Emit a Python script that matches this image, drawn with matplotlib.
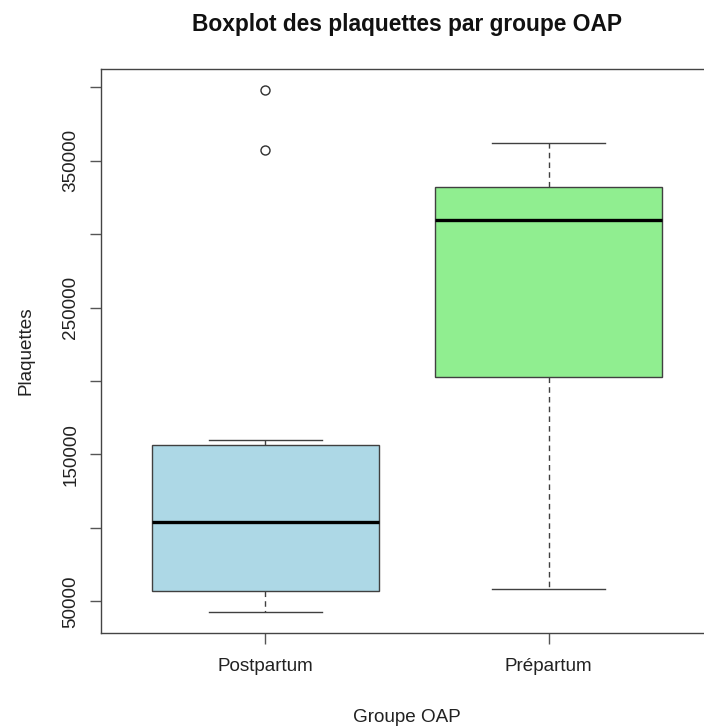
import matplotlib
matplotlib.use("Agg")
import matplotlib.pyplot as plt
import numpy as np

plt.rcParams['font.family'] = ['Liberation Sans', 'DejaVu Sans']

# Summary statistics of platelet counts per OAP group
groups = ["Postpartum", "Prépartum"]
whisker_low = [42500, 58200]
quartile_1 = [57200, 202500]
medians = [104300, 309600]
quartile_3 = [156600, 332400]
whisker_high = [160000, 362400]
outliers = [[398300, 357400], []]

box_colors = ["#ADD8E6", "#90EE90"]
yticks = [50000, 100000, 150000, 200000, 250000, 300000, 350000, 400000]
ytick_labels = ["50000", "", "150000", "", "250000", "", "350000", ""]

W, H = 704, 726
fig = plt.figure(figsize=(W / 100, H / 100), dpi=100)
ax = fig.add_axes([101 / W, (H - 633.2) / H, (713 - 101) / W, (633.2 - 69.1) / H])

stats = []
for i, name in enumerate(groups):
    stats.append(dict(label=name, whislo=whisker_low[i], q1=quartile_1[i],
                      med=medians[i], q3=quartile_3[i], whishi=whisker_high[i],
                      fliers=outliers[i]))

edge = "#404040"
bp = ax.bxp(stats, positions=[1, 2], widths=0.8, patch_artist=True,
            boxprops=dict(edgecolor=edge, linewidth=1.0),
            medianprops=dict(color="black", linewidth=2.4, solid_capstyle="butt"),
            whiskerprops=dict(color=edge, linewidth=1.0, linestyle=(0, (4, 3))),
            capprops=dict(color=edge, linewidth=1.0),
            capwidths=0.4,
            flierprops=dict(marker="o", markerfacecolor="none",
                            markeredgecolor="#303030", markersize=6.5,
                            markeredgewidth=1.0))
for patch, c in zip(bp["boxes"], box_colors):
    patch.set_facecolor(c)

# Axis ranges extended by 4% as in a classic boxplot
all_vals = whisker_low + whisker_high + [v for o in outliers for v in o]
lo, hi = min(all_vals), max(all_vals)
pad = 0.04 * (hi - lo)
ax.set_ylim(lo - pad, hi + pad)
ax.set_xlim(0.5 - 0.08, 2.5 + 0.08)

ax.set_yticks(yticks)
ax.set_yticklabels(ytick_labels, rotation=90, va="center")
ax.set_xticks([1, 2])
ax.set_xticklabels(groups)

for s in ax.spines.values():
    s.set_color("#444444")
    s.set_linewidth(1.0)

ax.tick_params(axis="both", length=8, width=1.0, color="#555555",
               labelsize=13.6, labelcolor="#222222")
ax.tick_params(axis="x", pad=10)
ax.tick_params(axis="y", pad=7.5)

ax.set_xlabel("Groupe OAP", fontsize=13.6, color="#222222", labelpad=24)
ax.set_ylabel("Plaquettes", fontsize=13.6, color="#222222", labelpad=20)

fig.text(407 / W, 1 - 24 / H, "Boxplot des plaquettes par groupe OAP",
         ha="center", va="center", fontsize=16.4, fontweight="bold",
         color="#111111")

fig.savefig("out.png", dpi=100)
